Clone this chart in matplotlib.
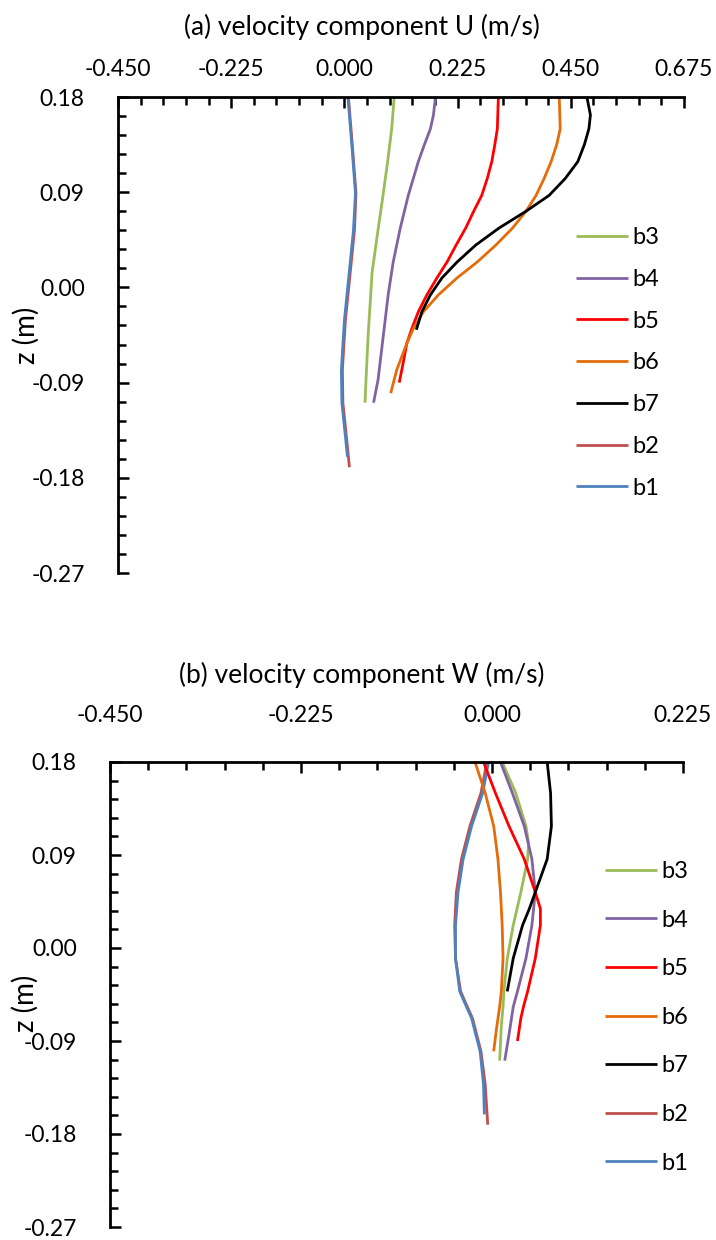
import matplotlib
matplotlib.use("Agg")
import matplotlib.pyplot as plt
from matplotlib.ticker import AutoMinorLocator, FormatStrFormatter

# ---------------- data ----------------
labels = ["b3", "b4", "b5", "b6", "b7", "b2", "b1"]
colors = {"b1": "#4F81BD", "b2": "#C0504D", "b3": "#9BBB59", "b4": "#8064A2",
          "b5": "#FF0000", "b6": "#E46C0A", "b7": "#000000"}

# (a) U component
zU_b1 = [0.18, 0.133, 0.089, 0.054, 0.016, -0.031, -0.078, -0.109, -0.141, -0.160]
U_b1 = [0.007, 0.015, 0.022, 0.018, 0.010, 0.000, -0.006, -0.005, 0.002, 0.006]
zU_b2 = [0.18, 0.133, 0.089, 0.054, 0.016, -0.031, -0.078, -0.109, -0.141, -0.170]
U_b2 = [0.008, 0.016, 0.023, 0.020, 0.012, 0.002, -0.004, -0.003, 0.004, 0.010]
zU_b3 = [0.18, 0.150, 0.119, 0.081, 0.055, 0.014, -0.024, -0.047, -0.087, -0.109]
U_b3 = [0.099, 0.094, 0.086, 0.075, 0.067, 0.055, 0.050, 0.047, 0.043, 0.041]
zU_b4 = [0.18, 0.163, 0.150, 0.135, 0.119, 0.103, 0.087, 0.056, 0.024, -0.007, -0.039,
         -0.087, -0.109]
U_b4 = [0.181, 0.177, 0.171, 0.159, 0.147, 0.137, 0.127, 0.111, 0.097, 0.087, 0.079,
        0.067, 0.058]
zU_b5 = [0.18, 0.150, 0.135, 0.119, 0.103, 0.087, 0.072, 0.056, 0.040, 0.024, 0.009, -0.007,
         -0.023, -0.039, -0.053, -0.071, -0.090]
U_b5 = [0.306, 0.304, 0.299, 0.293, 0.284, 0.273, 0.257, 0.241, 0.222, 0.204, 0.184, 0.164,
        0.147, 0.134, 0.124, 0.117, 0.109]
zU_b6 = [0.18, 0.150, 0.135, 0.119, 0.103, 0.087, 0.072, 0.056, 0.040, 0.024, 0.009, -0.007,
         -0.023, -0.039, -0.053, -0.078, -0.100]
U_b6 = [0.427, 0.429, 0.422, 0.411, 0.397, 0.381, 0.361, 0.334, 0.301, 0.264, 0.224, 0.187,
        0.157, 0.137, 0.124, 0.104, 0.092]
zU_b7 = [0.18, 0.163, 0.150, 0.135, 0.119, 0.103, 0.087, 0.072, 0.056, 0.040, 0.024, 0.009,
         -0.007, -0.023, -0.040]
U_b7 = [0.482, 0.489, 0.486, 0.477, 0.464, 0.439, 0.407, 0.361, 0.307, 0.261, 0.224, 0.194,
        0.171, 0.154, 0.143]

# (b) W component
zW_b1 = [0.18, 0.150, 0.118, 0.086, 0.054, 0.022, -0.010, -0.042, -0.057, -0.068, -0.100,
         -0.132, -0.161]
W_b1 = [-0.004, -0.011, -0.024, -0.034, -0.040, -0.043, -0.043, -0.038, -0.030, -0.024, -0.014,
        -0.010, -0.009]
zW_b2 = [0.18, 0.150, 0.118, 0.086, 0.054, 0.022, -0.010, -0.042, -0.057, -0.068, -0.100,
         -0.132, -0.171]
W_b2 = [-0.006, -0.013, -0.026, -0.036, -0.042, -0.044, -0.043, -0.037, -0.029, -0.023, -0.013,
        -0.008, -0.005]
zW_b3 = [0.18, 0.150, 0.118, 0.102, 0.086, 0.054, 0.022, -0.010, -0.042, -0.057, -0.075, -0.109]
W_b3 = [0.012, 0.028, 0.040, 0.043, 0.042, 0.034, 0.025, 0.018, 0.014, 0.013, 0.011, 0.009]
zW_b4 = [0.18, 0.150, 0.118, 0.086, 0.054, 0.022, -0.010, -0.042, -0.057, -0.084, -0.109]
W_b4 = [0.010, 0.024, 0.038, 0.047, 0.051, 0.047, 0.040, 0.030, 0.025, 0.020, 0.015]
zW_b5 = [0.18, 0.150, 0.118, 0.086, 0.054, 0.038, 0.022, -0.010, -0.042, -0.057, -0.068, -0.090]
W_b5 = [-0.010, 0.004, 0.020, 0.038, 0.051, 0.057, 0.057, 0.051, 0.042, 0.037, 0.034, 0.030]
zW_b6 = [0.18, 0.150, 0.118, 0.086, 0.054, 0.022, -0.010, -0.042, -0.057, -0.080, -0.100]
W_b6 = [-0.020, -0.008, 0.002, 0.007, 0.010, 0.012, 0.013, 0.011, 0.009, 0.005, 0.002]
zW_b7 = [0.18, 0.150, 0.118, 0.086, 0.054, 0.038, 0.022, -0.010, -0.042]
W_b7 = [0.065, 0.069, 0.070, 0.065, 0.051, 0.044, 0.036, 0.025, 0.018]

xticks_a = [-0.450, -0.225, 0.000, 0.225, 0.450, 0.675]
xticks_b = [-0.450, -0.225, 0.000, 0.225]
yticks = [0.18, 0.09, 0.00, -0.09, -0.18, -0.27]

title_a = "(a) velocity component U (m/s)"
title_b = "(b) velocity component W (m/s)"
ylabel = "z (m)"

# ---------------- plotting ----------------
plt.rcParams["font.family"] = ["Lato", "DejaVu Sans"]
FS_TICK = 16.5
FS_TITLE = 19
FS_LAB = 20
FS_LEG = 17

fig = plt.figure(figsize=(7.16, 12.4), dpi=100)
axA = fig.add_axes([118 / 716, 1 - 573 / 1240, 566 / 716, 476 / 1240])
axB = fig.add_axes([110 / 716, 1 - 1227 / 1240, 573 / 716, 465 / 1240])

dataA = {"b1": (U_b1, zU_b1), "b2": (U_b2, zU_b2), "b3": (U_b3, zU_b3), "b4": (U_b4, zU_b4),
         "b5": (U_b5, zU_b5), "b6": (U_b6, zU_b6), "b7": (U_b7, zU_b7)}
dataB = {"b1": (W_b1, zW_b1), "b2": (W_b2, zW_b2), "b3": (W_b3, zW_b3), "b4": (W_b4, zW_b4),
         "b5": (W_b5, zW_b5), "b6": (W_b6, zW_b6), "b7": (W_b7, zW_b7)}

draw_order = ["b2", "b1", "b3", "b4", "b5", "b6", "b7"]


def style(ax, xt, tpad):
    ax.set_xlim(xt[0], xt[-1])
    ax.set_ylim(-0.27, 0.18)
    ax.set_xticks(xt)
    ax.set_yticks(yticks)
    ax.xaxis.set_major_formatter(FormatStrFormatter("%.3f"))
    ax.yaxis.set_major_formatter(FormatStrFormatter("%.2f"))
    ax.xaxis.set_minor_locator(AutoMinorLocator(5))
    ax.yaxis.set_minor_locator(AutoMinorLocator(5))
    ax.xaxis.tick_top()
    for s in ["right", "bottom"]:
        ax.spines[s].set_visible(False)
    for s in ["left", "top"]:
        ax.spines[s].set_linewidth(2.0)
    ax.tick_params(axis="both", which="major", direction="in", length=8, width=1.8,
                   labelsize=FS_TICK)
    ax.tick_params(axis="both", which="minor", direction="in", length=5.5, width=1.8)
    ax.tick_params(axis="y", which="major", pad=24)
    ax.tick_params(axis="x", which="major", pad=tpad)
    ax.set_ylabel(ylabel, fontsize=FS_LAB)


style(axA, xticks_a, 12)
style(axB, xticks_b, 26)

legends = []
for ax, data in [(axA, dataA), (axB, dataB)]:
    handles = {}
    for name in draw_order:
        x, z = data[name]
        (ln,) = ax.plot(x, z, color=colors[name], lw=2.0, label=name, solid_capstyle="butt")
        handles[name] = ln
    legends.append((ax, [handles[n] for n in labels]))

axA.legend(legends[0][1], labels, frameon=False, fontsize=FS_LEG, loc="upper left",
           handlelength=2.2, handletextpad=0.2, borderpad=0, borderaxespad=0,
           labelspacing=0.88, bbox_to_anchor=(576 / 716, 1 - 227 / 1240),
           bbox_transform=fig.transFigure)
axB.legend(legends[1][1], labels, frameon=False, fontsize=FS_LEG, loc="upper left",
           handlelength=2.2, handletextpad=0.2, borderpad=0, borderaxespad=0,
           labelspacing=1.17, bbox_to_anchor=(605 / 716, 1 - 861 / 1240),
           bbox_transform=fig.transFigure)

fig.text(362 / 716, 1 - 27 / 1240, title_a, fontsize=FS_TITLE, ha="center", va="center")
fig.text(362 / 716, 1 - 675 / 1240, title_b, fontsize=FS_TITLE, ha="center", va="center")

axA.yaxis.set_label_coords(-(118 - 40) / 566, 0.5)
axB.yaxis.set_label_coords(-(110 - 40) / 565, 0.48)

fig.savefig("out.png", dpi=100)
